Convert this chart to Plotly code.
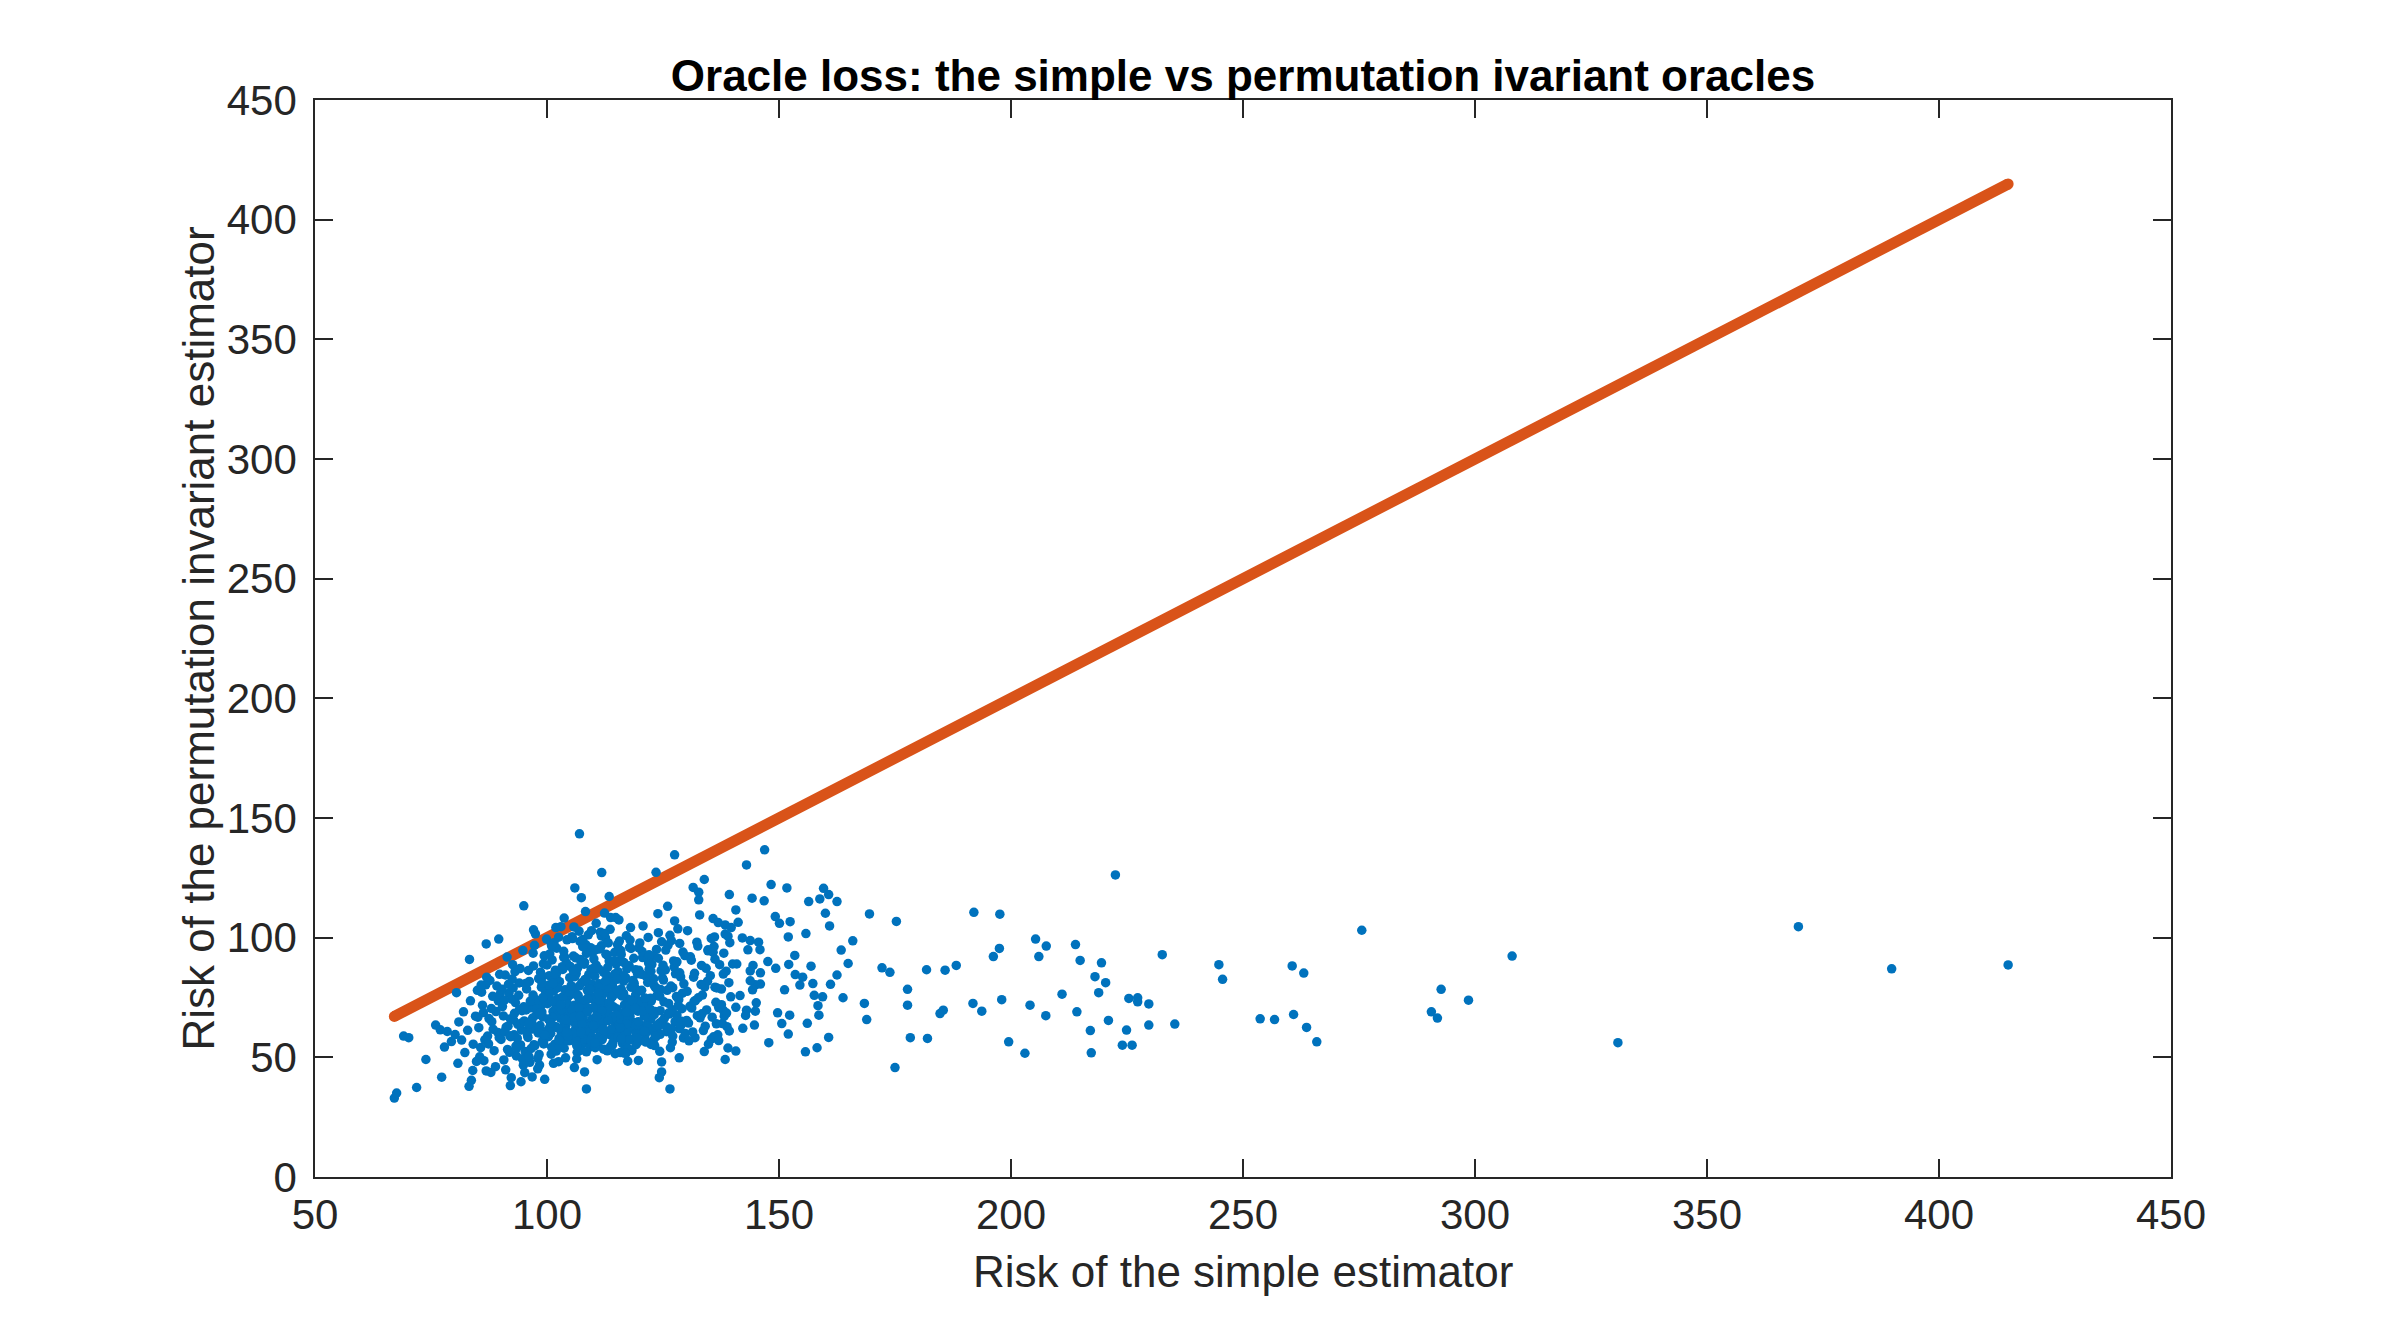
import plotly.graph_objects as go

# oracle risks, grouped by strips of the simple-estimator risk
# strip 85-90
band_85_x = [85.3, 85.7, 86.1, 86.4, 86.8, 87.2, 87.5, 87.9, 88.3, 88.6,
             89.0, 89.4, 89.8, 85.9, 86.6, 87.7, 88.1, 88.9, 89.5, 85.5,
             86.3, 87.0, 87.4, 88.4, 89.2, 89.7, 86.9, 88.0, 85.1, 89.9]
band_85_y = [62.4, 54.1, 71.8, 48.6, 80.3, 58.9, 66.2, 43.7, 75.5, 52.8,
             69.1, 60.4, 84.7, 77.2, 57.3, 82.1, 64.9, 46.1, 73.6, 50.2,
             68.7, 83.5, 55.6, 61.7, 79.8, 58.2, 44.3, 70.4, 66.8, 76.5]

# strip 90-95
band_90_x = [90.1, 90.4, 90.7, 91.0, 91.2, 91.5, 91.8, 92.1, 92.3, 92.6,
             92.9, 93.2, 93.4, 93.7, 94.0, 94.3, 94.6, 94.9, 90.3, 90.9,
             91.4, 91.9, 92.4, 92.8, 93.1, 93.6, 94.1, 94.5, 94.8, 90.6,
             91.1, 91.7, 92.2, 92.7, 93.3, 93.9, 94.4, 94.7, 90.8, 91.6,
             92.5, 93.0, 93.5, 94.2, 92.0]
band_90_y = [57.5, 71.2, 48.9, 84.4, 62.6, 53.3, 76.8, 66.1, 41.5, 88.7,
             59.4, 72.9, 50.6, 63.8, 81.1, 55.2, 69.5, 46.7, 78.4, 60.7,
             91.9, 52.1, 74.3, 65.6, 85.8, 57.9, 70.1, 61.4, 94.6, 67.3,
             44.8, 80.5, 58.6, 79.0, 54.7, 75.9, 64.2, 49.4, 73.8, 63.0,
             82.7, 68.4, 53.9, 87.1, 59.0]

# strip 95-100
band_95_x = [95.1, 95.3, 95.6, 95.8, 96.0, 96.3, 96.5, 96.8, 97.0, 97.2,
             97.5, 97.7, 98.0, 98.2, 98.5, 98.7, 99.0, 99.2, 99.5, 99.7,
             95.2, 95.5, 95.9, 96.2, 96.6, 96.9, 97.3, 97.6, 97.9, 98.3,
             98.6, 98.9, 99.3, 99.6, 99.9, 95.4, 95.7, 96.1, 96.4, 96.7,
             97.1, 97.4, 97.8, 98.1, 98.4, 98.8, 99.1, 99.4, 99.8, 95.0,
             96.0, 97.0, 98.0, 99.0, 97.5]
band_95_y = [65.2, 52.4, 78.6, 59.1, 86.3, 47.9, 70.7, 61.8, 93.5, 55.3,
             74.2, 67.7, 49.6, 82.9, 63.3, 71.6, 56.8, 89.1, 60.5, 77.4,
             43.6, 69.8, 58.3, 81.7, 53.7, 66.4, 96.8, 62.1, 72.8, 51.2,
             85.6, 68.9, 57.4, 75.1, 99.4, 80.8, 61.0, 50.3, 73.5, 64.6,
             88.2, 54.9, 70.3, 60.2, 46.8, 79.3, 66.9, 92.4, 58.7, 71.1,
             63.9, 76.0, 45.2, 83.8, 101.6]

# strip 100-105
band_100_x = [100.1, 100.3, 100.5, 100.7, 100.9, 101.1, 101.3, 101.5, 101.7, 101.9,
              102.1, 102.3, 102.5, 102.7, 102.9, 103.1, 103.3, 103.5, 103.7, 103.9,
              104.1, 104.3, 104.5, 104.7, 104.9, 100.2, 100.6, 101.0, 101.4, 101.8,
              102.2, 102.6, 103.0, 103.4, 103.8, 104.2, 104.6, 100.4, 100.8, 101.2,
              101.6, 102.0, 102.4, 102.8, 103.2, 103.6, 104.0, 104.4, 104.8, 100.0,
              101.0, 102.0, 103.0, 104.0, 100.5, 101.5, 102.5, 103.5, 104.5, 101.3,
              102.7, 103.9, 100.9, 104.3, 102.1]
band_100_y = [72.4, 58.6, 84.1, 64.9, 51.3, 90.7, 69.2, 77.8, 55.5, 62.8,
              95.6, 74.5, 48.2, 81.6, 66.3, 59.7, 87.9, 70.9, 53.8, 78.2,
              63.5, 99.1, 68.0, 56.9, 83.3, 61.4, 93.2, 73.7, 47.5, 86.4,
              67.6, 57.8, 104.6, 75.3, 64.1, 89.5, 71.2, 80.2, 60.0, 66.7,
              96.3, 52.6, 79.1, 70.0, 62.3, 91.8, 57.1, 74.8, 65.4, 88.6,
              54.2, 83.0, 69.6, 49.8, 76.6, 63.0, 100.2, 58.3, 72.1, 81.9,
              54.7, 67.9, 97.5, 60.9, 85.2]

# strip 105-110
band_105_x = [105.1, 105.3, 105.5, 105.7, 105.9, 106.1, 106.3, 106.5, 106.7, 106.9,
              107.1, 107.3, 107.5, 107.7, 107.9, 108.1, 108.3, 108.5, 108.7, 108.9,
              109.1, 109.3, 109.5, 109.7, 109.9, 105.2, 105.6, 106.0, 106.4, 106.8,
              107.2, 107.6, 108.0, 108.4, 108.8, 109.2, 109.6, 105.4, 105.8, 106.2,
              106.6, 107.0, 107.4, 107.8, 108.2, 108.6, 109.0, 109.4, 109.8, 105.0,
              106.0, 107.0, 108.0, 109.0, 110.0, 105.5, 106.5, 107.5, 108.5, 109.5,
              105.9, 106.9, 107.9, 108.9, 106.3, 107.3, 108.3, 109.3, 105.7, 106.7,
              107.7, 108.7, 109.7, 106.1, 108.1]
band_105_y = [66.7, 79.4, 57.2, 92.3, 71.8, 61.6, 85.0, 52.1, 75.9, 68.3,
              98.4, 63.7, 81.2, 55.8, 73.0, 89.7, 64.5, 59.1, 78.0, 101.2,
              70.4, 54.4, 86.8, 66.0, 94.1, 76.3, 60.3, 83.7, 49.3, 71.1,
              90.9, 65.0, 57.6, 97.0, 74.6, 62.9, 80.5, 69.7, 104.5, 58.0,
              87.3, 73.4, 53.0, 66.8, 82.4, 61.2, 77.1, 95.8, 56.3, 88.0,
              64.3, 79.9, 72.7, 84.6, 63.1, 99.6, 67.4, 59.9, 93.4, 75.4,
              45.7, 102.7, 68.8, 81.0, 56.7, 90.1, 74.0, 60.7, 86.1, 64.8,
              96.2, 70.6, 58.5, 78.8, 43.9]

# strip 110-115
band_110_x = [110.2, 110.4, 110.6, 110.8, 111.0, 111.2, 111.4, 111.6, 111.8, 112.0,
              112.2, 112.4, 112.6, 112.8, 113.0, 113.2, 113.4, 113.6, 113.8, 114.0,
              114.2, 114.4, 114.6, 114.8, 110.3, 110.7, 111.1, 111.5, 111.9, 112.3,
              112.7, 113.1, 113.5, 113.9, 114.3, 114.7, 110.1, 110.5, 110.9, 111.3,
              111.7, 112.1, 112.5, 112.9, 113.3, 113.7, 114.1, 114.5, 114.9, 110.0,
              111.0, 112.0, 113.0, 114.0, 110.6, 111.6, 112.6, 113.6, 114.6, 111.2,
              112.2, 113.2, 114.2, 110.8, 111.8, 112.8, 113.8, 112.4, 110.4, 114.4]
band_110_y = [74.1, 61.9, 88.5, 68.6, 55.0, 80.7, 95.3, 63.4, 72.3, 58.4,
              85.5, 66.2, 99.9, 77.5, 52.7, 70.5, 90.2, 60.6, 82.8, 67.1,
              56.1, 76.9, 93.9, 64.0, 83.9, 57.3, 71.4, 102.3, 62.5, 79.6,
              69.0, 87.6, 59.5, 75.0, 65.7, 51.5, 91.1, 66.5, 78.7, 58.8,
              96.6, 73.1, 61.1, 84.2, 68.0, 54.6, 80.1, 62.2, 89.0, 70.8,
              63.9, 76.2, 92.7, 59.2, 106.0, 67.8, 81.4, 72.6, 57.9, 86.9,
              64.7, 97.8, 75.7, 49.0, 69.4, 79.0, 61.7, 110.3, 54.0, 71.0]

# strip 115-120
band_115_x = [115.1, 115.3, 115.5, 115.7, 115.9, 116.1, 116.3, 116.5, 116.7, 116.9,
              117.1, 117.3, 117.5, 117.7, 117.9, 118.1, 118.3, 118.5, 118.7, 118.9,
              119.1, 119.3, 119.5, 119.7, 119.9, 115.2, 115.6, 116.0, 116.4, 116.8,
              117.2, 117.6, 118.0, 118.4, 118.8, 119.2, 119.6, 115.4, 115.8, 116.2,
              116.6, 117.0, 117.4, 117.8, 118.2, 118.6, 119.0, 119.4, 119.8, 115.0,
              116.0, 117.0, 118.0, 119.0, 115.5, 116.5, 117.5, 118.5, 119.5, 117.9]
band_115_y = [70.2, 85.8, 60.1, 77.0, 94.6, 65.3, 55.7, 81.8, 71.9, 62.0,
              100.8, 74.4, 58.1, 88.3, 67.0, 79.3, 52.9, 69.8, 91.4, 61.5,
              76.1, 64.6, 84.9, 56.6, 73.3, 97.1, 63.6, 78.5, 68.4, 59.8,
              87.0, 72.0, 104.2, 62.7, 80.9, 55.3, 69.3, 90.0, 66.1, 75.6,
              51.8, 83.2, 61.0, 96.0, 70.7, 64.4, 78.9, 58.7, 86.4, 67.5,
              93.0, 54.8, 73.9, 63.2, 107.4, 76.7, 66.6, 82.1, 60.4, 99.0]

# strip 120-125
band_120_x = [120.1, 120.3, 120.6, 120.8, 121.1, 121.3, 121.6, 121.8, 122.1, 122.3,
              122.6, 122.8, 123.1, 123.3, 123.6, 123.8, 124.1, 124.3, 124.6, 124.8,
              120.2, 120.7, 121.2, 121.7, 122.2, 122.7, 123.2, 123.7, 124.2, 124.7,
              120.4, 120.9, 121.4, 121.9, 122.4, 122.9, 123.4, 123.9, 124.4, 124.9,
              120.5, 121.5, 122.5, 123.5, 124.5, 121.0, 122.0, 123.0, 124.0, 122.4]
band_120_y = [77.8, 63.1, 91.7, 70.1, 57.5, 84.0, 66.9, 100.1, 61.3, 74.7,
              88.8, 56.2, 80.0, 69.1, 95.1, 62.4, 76.4, 52.5, 86.2, 65.1,
              72.9, 104.9, 59.6, 81.3, 68.7, 92.1, 54.9, 75.8, 64.2, 98.3,
              84.7, 60.8, 71.5, 89.4, 66.0, 57.0, 79.1, 110.0, 69.5, 83.1,
              94.2, 63.8, 73.6, 58.6, 78.3, 67.2, 86.8, 61.6, 102.1, 55.4]

# strip 125-130
band_125_x = [125.2, 125.5, 125.8, 126.1, 126.4, 126.7, 127.0, 127.3, 127.6, 127.9,
              128.2, 128.5, 128.8, 129.1, 129.4, 129.7, 125.3, 125.9, 126.5, 127.1,
              127.7, 128.3, 128.9, 129.5, 125.6, 126.2, 126.8, 127.4, 128.0, 128.6,
              129.2, 129.8, 125.1, 126.0, 127.0, 128.0, 129.0, 126.6, 128.4, 127.5]
band_125_y = [73.2, 86.5, 60.7, 96.9, 68.1, 79.8, 56.4, 90.3, 64.9, 75.4,
              103.7, 62.0, 83.6, 70.3, 58.1, 92.5, 66.3, 78.0, 101.0, 58.9,
              84.9, 71.7, 63.5, 80.7, 94.8, 72.5, 61.9, 87.7, 67.7, 97.6,
              76.8, 60.0, 82.3, 113.1, 69.9, 89.9, 65.1, 54.0, 74.1, 107.0]

# strip 130-135
band_130_x = [130.2, 130.5, 130.9, 131.2, 131.6, 131.9, 132.3, 132.6, 133.0, 133.3,
              133.7, 134.0, 134.4, 134.7, 130.3, 130.8, 131.4, 131.8, 132.4, 132.9,
              133.5, 134.1, 134.6, 130.6, 131.1, 132.0, 132.7, 133.4, 134.3, 131.5]
band_130_y = [77.6, 64.3, 92.0, 70.6, 83.5, 58.2, 98.1, 74.9, 66.5, 88.4,
              61.2, 79.4, 69.8, 94.5, 102.9, 71.3, 60.6, 85.1, 67.4, 109.5,
              76.0, 63.0, 81.8, 56.9, 90.6, 73.7, 115.8, 68.2, 87.2, 121.0]

# strip 135-140
band_135_x = [135.2, 135.6, 136.0, 136.4, 136.8, 137.2, 137.6, 138.0, 138.4, 138.8,
              139.2, 139.6, 135.4, 136.2, 137.0, 137.8, 138.6, 139.4, 136.6, 138.2,
              135.8, 139.0]
band_135_y = [84.1, 66.8, 96.3, 73.0, 59.4, 88.7, 78.5, 69.6, 101.5, 62.8,
              81.2, 75.3, 57.6, 91.0, 70.8, 64.1, 86.0, 97.9, 79.0, 67.2,
              108.0, 53.9]

# extra points in the thickest part of the cloud
core_x = [98.4, 99.1, 100.6, 101.3, 102.0, 102.8, 103.4, 104.1, 104.9, 105.6,
          106.2, 106.9, 107.5, 108.2, 108.8, 109.4, 110.1, 110.7, 111.4, 112.0,
          112.7, 113.3, 114.0, 114.6, 115.3, 115.9, 116.6, 117.2, 117.9, 118.5,
          119.2, 119.8, 120.5, 121.1, 121.8, 122.4, 123.1, 123.7, 124.4, 125.0,
          98.9, 99.6, 100.3, 101.0, 101.7, 102.4, 103.1, 103.8, 104.5, 105.2,
          105.9, 106.6, 107.3, 108.0, 108.7, 109.3, 110.0, 110.6, 111.3, 111.9,
          112.6, 113.2, 113.9, 114.5, 115.2, 115.8, 116.5, 117.1, 117.8, 118.4,
          119.1, 119.7, 120.4, 121.0, 121.7, 122.3, 123.0, 123.6, 124.3, 126.2,
          99.3, 100.8, 102.6, 104.3, 106.4, 108.5, 110.3, 112.2, 114.1, 116.0,
          117.5, 119.4, 121.3, 123.3, 125.7, 127.1, 128.6, 130.1, 131.7, 133.2,
          101.5, 103.6, 105.4, 107.7, 109.6, 111.7, 113.6, 115.6, 118.1, 120.0,
          122.0, 124.0, 126.8, 129.3, 132.5, 103.0, 107.1, 111.1, 115.1, 119.0]
core_y = [68.3, 75.0, 62.6, 80.9, 71.5, 58.0, 86.7, 65.8, 77.3, 60.1,
          91.6, 70.8, 63.9, 82.5, 74.3, 56.9, 87.2, 67.0, 79.2, 61.6,
          93.1, 72.7, 66.4, 84.8, 58.5, 76.1, 89.6, 64.0, 71.9, 81.7,
          59.9, 95.7, 69.3, 74.8, 62.9, 86.0, 67.8, 78.7, 59.6, 88.5,
          81.2, 59.3, 66.0, 73.2, 85.0, 62.2, 69.9, 92.0, 58.8, 80.0,
          66.9, 75.7, 60.5, 88.9, 69.0, 78.3, 63.2, 95.0, 73.8, 57.4,
          82.0, 65.3, 71.1, 90.4, 77.9, 62.4, 84.1, 68.8, 57.3, 73.5,
          86.6, 64.9, 78.0, 61.0, 91.2, 70.0, 82.8, 63.3, 75.5, 68.5,
          55.6, 64.5, 57.1, 60.4, 54.9, 52.3, 56.0, 53.4, 55.1, 57.7,
          53.6, 58.2, 56.4, 59.0, 62.8, 79.1, 85.3, 65.4, 73.4, 80.4,
          97.9, 94.3, 100.4, 99.2, 102.9, 100.7, 103.5, 98.6, 95.5, 97.8,
          92.9, 91.4, 98.8, 94.0, 96.5, 72.0, 67.2, 76.8, 82.6, 70.4]

# scattered points around the edge of the main cloud
edge_x = [67.1, 67.6, 69.1, 70.2, 71.9, 73.9, 77.3, 76.0, 77.0, 78.5,
          77.9, 79.4, 80.5, 80.2, 81.0, 81.6, 82.3, 82.9, 83.5, 83.2,
          83.7, 84.1, 84.6, 84.8, 82.0, 83.3, 85.0, 80.8, 84.0, 85.8,
          86.9, 89.6, 92.1, 94.4, 96.8, 99.5, 108.5, 95.0, 97.1, 103.7,
          101.9, 101.0, 107.0, 111.8, 106.0, 107.4, 113.4, 108.3, 113.7, 114.8,
          112.4, 123.5, 127.5, 126.5, 124.7, 124.7, 124.2, 117.4, 119.7, 128.5,
          115.8, 117.0, 133.9, 132.7, 133.9, 138.4, 140.7, 136.9, 138.4, 139.7,
          135.4, 136.1, 139.0, 134.7, 135.8, 138.1, 137.6, 138.7, 136.5, 135.9,
          139.3, 137.0, 134.8, 136.2, 138.0]
edge_y = [33.0, 35.1, 58.9, 58.2, 37.4, 49.1, 41.7, 63.5, 61.5, 60.8,
          54.3, 56.6, 77.0, 59.5, 64.8, 57.2, 52.0, 61.3, 73.6, 37.9,
          40.4, 55.5, 67.2, 48.3, 69.0, 90.9, 78.0, 47.5, 44.5, 80.2,
          97.4, 99.4, 38.2, 39.8, 41.8, 40.8, 36.8, 113.3, 103.3, 108.2,
          104.2, 96.5, 143.4, 127.2, 120.8, 116.7, 117.2, 110.9, 108.4, 108.4,
          101.7, 127.3, 134.6, 36.8, 48.1, 43.9, 41.5, 48.4, 48.7, 49.8,
          52.0, 51.6, 124.3, 119.0, 52.4, 49.1, 52.6, 106.3, 105.3, 104.2,
          99.7, 100.3, 100.6, 94.9, 93.9, 93.5, 72.0, 68.5, 64.0, 58.6,
          61.0, 57.0, 55.5, 79.3, 84.8]

# the long tail to the right
tail_x = [139.3, 140.7, 141.2, 142.1, 143.8, 143.3, 145.6, 145.9, 144.4, 144.9,
          145.1, 144.9, 142.8, 144.7, 142.2, 141.6, 140.7, 143.0, 140.0, 140.9,
          143.8, 146.0, 143.8, 146.0, 144.3, 146.9, 143.0, 148.3, 151.7, 159.6,
          160.7, 162.5, 158.8, 156.4, 160.0, 160.9, 169.5, 175.3, 165.9, 163.4,
          164.9, 172.2, 173.9, 181.8, 177.7, 177.7, 168.4, 168.9, 178.3, 182.0,
          175.0, 163.8, 160.7, 158.2, 155.7, 147.8, 152.0, 152.3, 150.6, 156.1,
          158.6, 158.4, 157.6, 159.4, 161.1, 162.5, 157.3, 156.9, 154.5, 153.5,
          155.1, 153.4, 152.1, 152.0, 155.8, 152.4, 149.2, 150.1, 151.2, 149.7,
          149.3, 147.6, 146.8, 144.2,
          185.8, 188.2, 184.7, 185.4, 192.0, 197.6, 197.5, 196.2, 191.8, 193.7,
          198.0, 199.5, 203.0, 204.1, 205.3, 207.6, 206.0, 207.5, 211.0, 213.9,
          214.9, 214.2, 217.1, 217.3, 219.5, 218.1, 220.4, 218.9, 222.5, 221.0,
          225.4, 227.3, 227.3, 229.7, 224.9, 224.0, 226.1, 229.7, 232.6, 235.3,
          244.8, 245.6, 253.7, 256.8, 260.6, 263.1, 260.9, 263.7, 265.9,
          275.6, 292.7, 290.6, 291.9, 298.6, 308.0, 330.8, 369.7, 389.8, 414.9]
tail_y = [118.0, 111.6, 106.4, 99.9, 98.8, 94.9, 98.1, 95.0, 88.4, 80.3,
          72.8, 69.3, 67.5, 63.5, 62.1, 75.8, 70.9, 69.7, 89.0, 89.0,
          86.1, 85.3, 82.0, 80.6, 78.2, 136.7, 130.4, 122.2, 120.8, 120.6,
          118.0, 115.1, 116.2, 115.1, 110.2, 104.9, 109.9, 106.8, 98.7, 94.8,
          89.2, 87.4, 85.5, 86.6, 78.4, 71.8, 72.5, 65.8, 58.2, 57.9,
          45.7, 74.9, 58.3, 54.0, 52.3, 56.1, 59.7, 67.6, 64.1, 64.2,
          67.6, 71.6, 75.9, 75.3, 80.5, 84.4, 80.8, 88.1, 80.2, 84.6,
          83.5, 92.6, 88.8, 100.3, 101.7, 106.7, 108.8, 106.0, 78.2, 68.6,
          87.2, 90.0, 115.4, 116.5,
          86.4, 88.4, 68.3, 69.7, 110.6, 109.8, 95.5, 92.1, 72.5, 69.3,
          74.1, 56.5, 51.7, 71.8, 99.4, 96.5, 92.1, 67.4, 76.4, 97.1,
          90.5, 69.0, 61.2, 51.9, 89.5, 83.7, 81.2, 77.0, 126.2, 65.4,
          74.6, 74.9, 73.2, 72.3, 61.4, 55.1, 55.1, 63.5, 92.9, 63.9,
          88.7, 82.6, 66.1, 65.8, 88.2, 85.2, 67.9, 62.5, 56.5,
          103.1, 78.4, 69.0, 66.4, 73.9, 92.3, 56.1, 104.6, 87.0, 88.6]

# put all the pieces together
risk_simple = (band_85_x + band_90_x + band_95_x + band_100_x + band_105_x + band_110_x
               + band_115_x + band_120_x + band_125_x + band_130_x + band_135_x
               + core_x + edge_x + tail_x)
risk_perm = (band_85_y + band_90_y + band_95_y + band_100_y + band_105_y + band_110_y
             + band_115_y + band_120_y + band_125_y + band_130_y + band_135_y
             + core_y + edge_y + tail_y)

# diagonal y = x over the range of the simple risk
diag = [min(risk_simple), max(risk_simple)]

tick_font = dict(family="Liberation Sans, Arial", size=42, color="#262626")
label_font = dict(family="Liberation Sans, Arial", size=44, color="#262626")

fig = go.Figure()

fig.add_trace(go.Scatter(x=diag, y=diag, mode="lines+markers",
                         line=dict(color="#D95319", width=11),
                         marker=dict(color="#D95319", size=11),
                         hoverinfo="skip", showlegend=False))

fig.add_trace(go.Scatter(x=risk_simple, y=risk_perm, mode="markers",
                         marker=dict(color="#0072BD", size=9.5, line=dict(width=0)),
                         showlegend=False))

axis_style = dict(showgrid=False, zeroline=False, showline=True, mirror="ticks",
                  linecolor="#262626", linewidth=1.5, ticks="inside", ticklen=18,
                  tickwidth=1.5, tickcolor="#262626", tickfont=tick_font, dtick=50)

fig.update_xaxes(range=[50, 450], tick0=50, **axis_style)
fig.update_yaxes(range=[0, 450], tick0=0, ticklabelstandoff=8, **axis_style)

fig.update_layout(
    width=2400, height=1321,
    margin=dict(l=307, r=237, t=92, b=152),
    paper_bgcolor="white", plot_bgcolor="white",
    title=dict(text="<b>Oracle loss: the simple vs permutation ivariant oracles</b>",
               font=dict(family="Liberation Sans, Arial", size=44, color="black"),
               xref="paper", x=0.5, xanchor="center",
               yref="container", y=1 - 68 / 1321, yanchor="middle"),
    annotations=[
        dict(text="Risk of the simple estimator", xref="paper", yref="paper",
             x=0.5, y=0, xanchor="center", yanchor="middle", yshift=-94,
             showarrow=False, font=label_font),
        dict(text="Risk of the permutation invariant estimator", xref="paper", yref="paper",
             x=0, y=0.5, xanchor="center", yanchor="middle", xshift=-117, textangle=-90,
             showarrow=False, font=label_font),
    ],
)

fig.write_html("out.html")
